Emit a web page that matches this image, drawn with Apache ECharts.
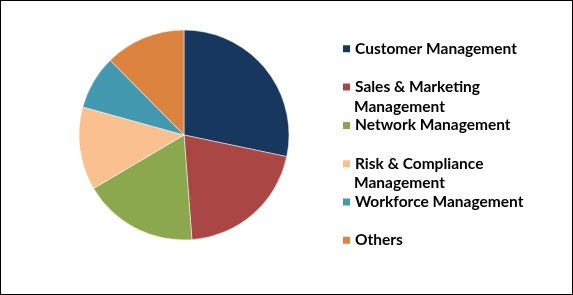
<!DOCTYPE html>
<html>
<head>
<meta charset="utf-8">
<script src="https://cdn.jsdelivr.net/npm/echarts@6/dist/echarts.min.js"></script>
<style>
html,body{margin:0;padding:0;background:#fff;}
#c{width:573px;height:295px;box-sizing:border-box;border:1px solid #000;}
</style>
</head>
<body>
<div id="c"></div>
<script>
var categories = ['Customer Management','Sales & Marketing Management','Network Management','Risk & Compliance Management','Workforce Management','Others'];
var legendLines = ['Customer Management','Sales & Marketing','Network Management','Risk & Compliance','Workforce Management','Others'];
var values = [28.3, 20.5, 17.7, 12.8, 8.3, 12.4];
var colors = ['#17375E','#AA4643','#8BA84E','#FAC090','#4299B0','#DC843F'];

var chart = echarts.init(document.getElementById('c'), null, {renderer:'canvas'});
var font = 'Lato';
var fs = 15.5;
var data = categories.map(function(n,i){return {name:n, value:values[i], itemStyle:{color:colors[i]}};});
var rowStep = 38.3;
var legendTop = 38.3;
var extra = [];
categories.forEach(function(n,i){
  if (n !== legendLines[i]) {
    extra.push({
      type:'text', left: 353, top: legendTop + i*rowStep + 9.5 + 19.3 - fs/2,
      style:{text: n.substring(legendLines[i].length+1), font:'bold ' + fs + 'px ' + font, fill:'#000'}
    });
  }
});
chart.setOption({
  animation:false,
  legend:{
    orient:'vertical', left:340, top:legendTop, padding:0,
    itemWidth:9, itemHeight:9, itemGap: rowStep-19, icon:'rect',
    textStyle:{fontFamily:font, fontWeight:'bold', fontSize:fs, color:'#000', lineHeight:19, padding:[0,0,0,-1]},
    formatter:function(name){return legendLines[categories.indexOf(name)];},
    data:categories
  },
  graphic: extra,
  series:[{
    type:'pie', center:[183,134], radius:105, startAngle:90, clockwise:true,
    label:{show:false}, labelLine:{show:false},
    itemStyle:{borderColor:'#fff', borderWidth:0.5},
    emphasis:{disabled:true},
    data:data
  }]
});
</script>
</body>
</html>
